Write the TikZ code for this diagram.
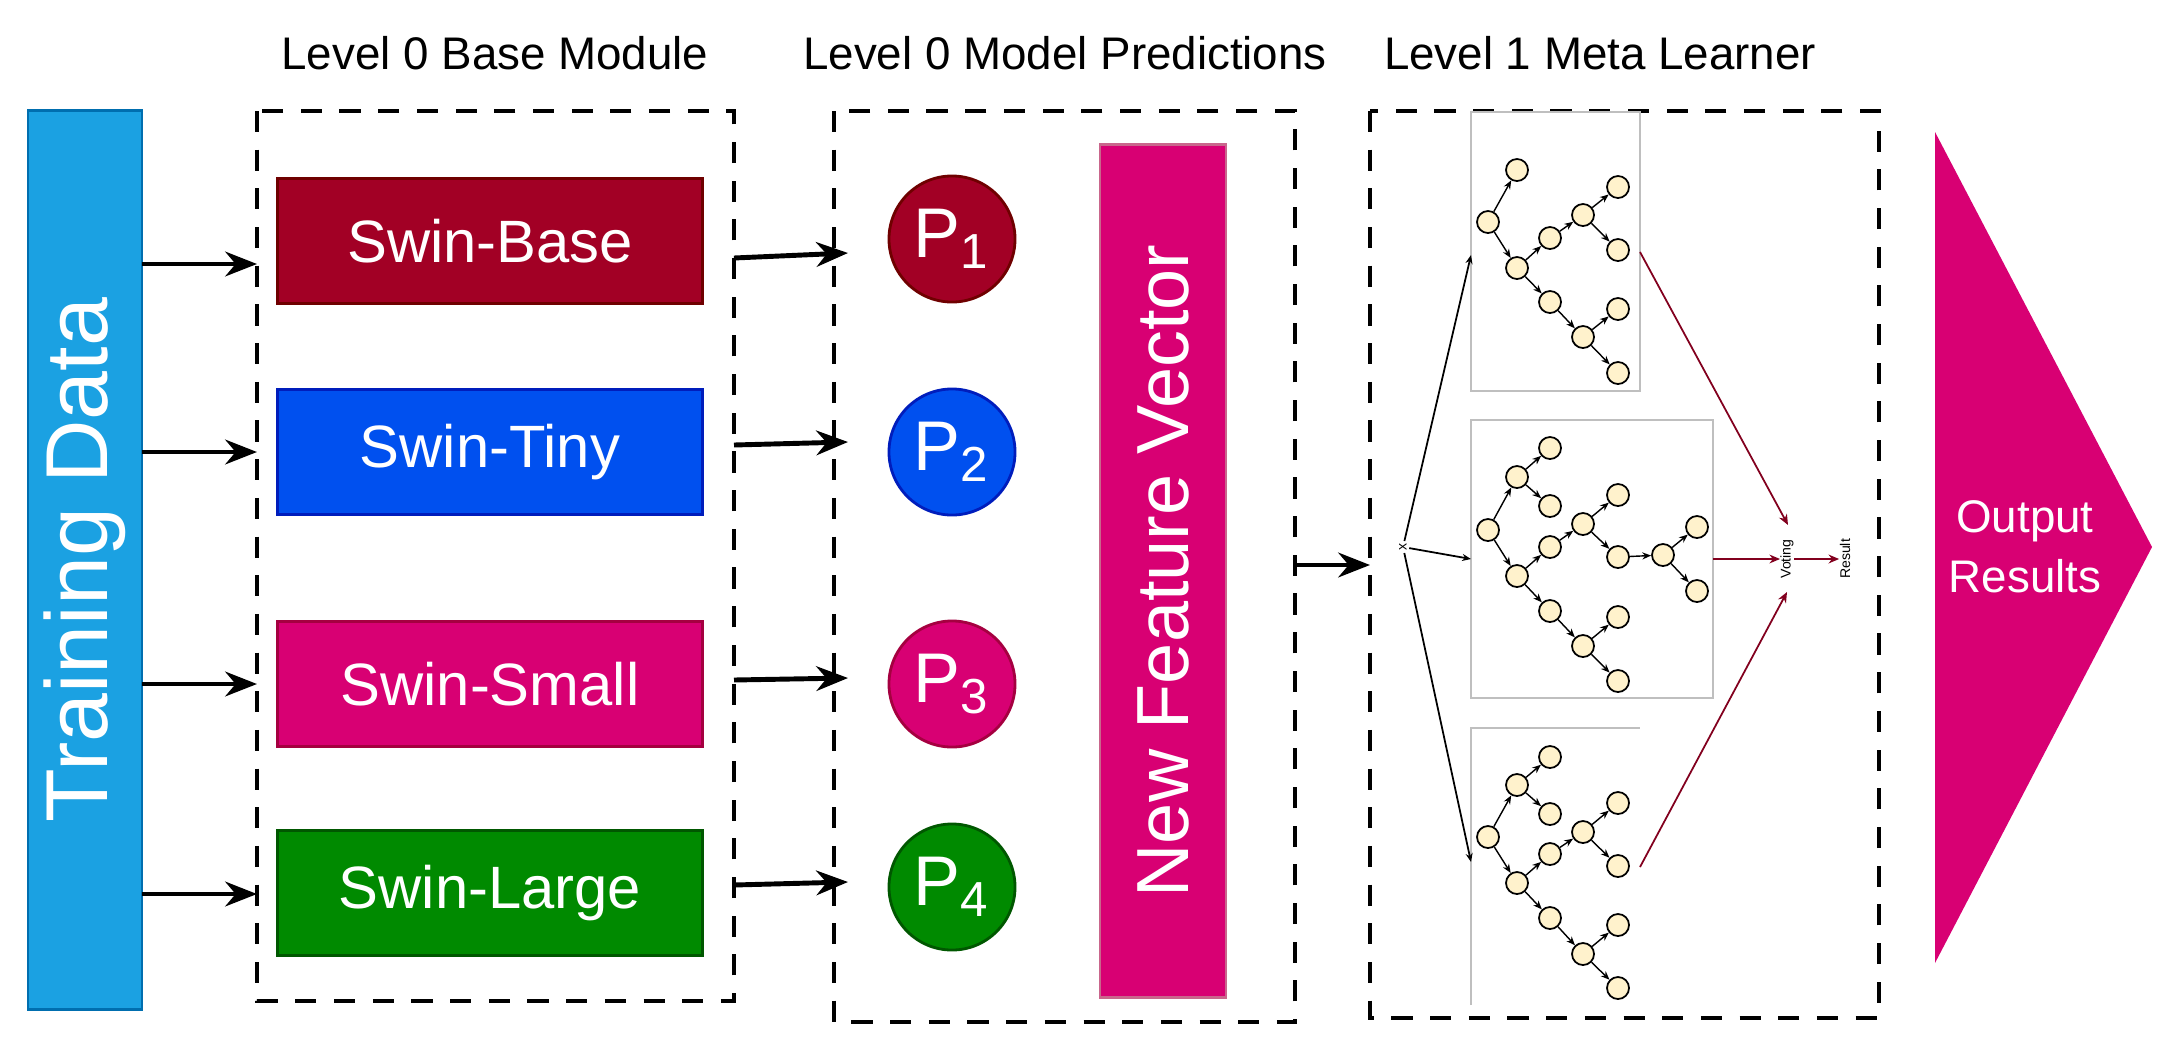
\documentclass[tikz,border=0pt]{standalone}
\usepackage{fontspec}
\setmainfont{Liberation Sans}
\usetikzlibrary{arrows.meta}
\definecolor{cbase}{HTML}{A20025}\definecolor{cbaseD}{HTML}{6F0000}
\definecolor{ctiny}{HTML}{0050EF}\definecolor{ctinyD}{HTML}{001DBC}
\definecolor{csmall}{HTML}{D80073}\definecolor{csmallD}{HTML}{A50040}
\definecolor{clarge}{HTML}{008A00}\definecolor{clargeD}{HTML}{005700}
\definecolor{ctrain}{HTML}{1BA1E2}\definecolor{ctrainD}{HTML}{006EAF}
\definecolor{tn}{HTML}{FFF2CC}
\begin{document}
\begin{tikzpicture}[x=0.01cm,y=-0.01cm,
 dashbox/.style={draw=black,line width=1.3pt,dash pattern=on 6pt off 5pt},
 model/.style={draw=#1!70!black,fill=#1,line width=0.8pt,minimum width=424\pgflinewidth,text=white,font=\fontsize{17}{20}\selectfont},
 arr/.style={-{Stealth[length=9pt,width=7pt]},line width=1.4pt},
 pc/.style={circle,fill=#1,draw=#1!70!black,line width=0.8pt,minimum size=126*0.2845pt,inner sep=0pt,text=white,font=\fontsize{20}{22}\selectfont},
 title/.style={font=\fontsize{13}{15}\selectfont},
 tn/.style={circle,draw=black,fill=tn,line width=0.5pt,minimum size=22*0.2845pt,inner sep=0pt},
 te/.style={-{Stealth[length=2.5pt,width=2pt]},line width=0.4pt},
 gbox/.style={draw=black!25,line width=0.8pt},
 red/.style={draw=cbase!80!black,line width=0.5pt,-{Stealth[length=3pt,width=2.5pt]}}]
\useasboundingbox (0,0) rectangle (2182,1048);
% titles
\node[title] (t1) at (495,53) {Level 0 Base Module};
\node[title] (t2) at (1065,53) {Level 0 Model Predictions};
\node[title] (t3) at (1600,53) {Level 1 Meta Learner};
% training
\node[fill=ctrain,draw=ctrainD,line width=0.8pt,minimum width=114*0.2845pt,minimum height=899*0.2845pt,inner sep=0pt] (train) at (85,560) {};
\node[rotate=90,text=white,font=\fontsize{25}{28}\selectfont] (trt) at (85,560) {Training Data};
% boxes
\draw[dashbox] (257,111) rectangle (734,1001);
\draw[dashbox] (834,111) rectangle (1295,1022);
\draw[dashbox] (1370,111) rectangle (1879,1018);
% models
\tikzset{mrect/.style={minimum width=424*0.2845pt,minimum height=125*0.2845pt,inner sep=0pt}}
\node[model=cbase,mrect,draw=cbaseD] (m1) at (490,241) {Swin-Base};
\node[model=ctiny,mrect,draw=ctinyD] (m2) at (490,452) {Swin-Tiny};
\node[model=csmall,mrect,draw=csmallD] (m3) at (490,684) {Swin-Small};
\node[model=clarge,mrect,draw=clargeD] (m4) at (490,893) {Swin-Large};
\coordinate (s1) at (142,264);\coordinate (s2) at (142,452);\coordinate (s3) at (142,684);\coordinate (s4) at (142,894);
\coordinate (e1) at (257,264);\coordinate (e2) at (257,452);\coordinate (e3) at (257,684);\coordinate (e4) at (257,894);
\foreach \i in {1,...,4}{\draw[arr] (s\i) -- (e\i);}
% predictions
\node[pc=cbase,draw=cbaseD] (p1) at (952,239) {P\textsubscript{1}};
\node[pc=ctiny,draw=ctinyD] (p2) at (952,452) {P\textsubscript{2}};
\node[pc=csmall,draw=csmallD] (p3) at (952,684) {P\textsubscript{3}};
\node[pc=clarge,draw=clargeD] (p4) at (952,887) {P\textsubscript{4}};
\coordinate (q1) at (734,258);\coordinate (q2) at (734,445);\coordinate (q3) at (734,680);\coordinate (q4) at (734,885);
\coordinate (r1) at (848,253);\coordinate (r2) at (848,442);\coordinate (r3) at (848,678);\coordinate (r4) at (848,882);
\foreach \i in {1,...,4}{\draw[arr] (q\i) -- (r\i);}
% NFV
\node[fill=csmall,draw=csmallD!60,line width=0.8pt,minimum width=126*0.2845pt,minimum height=853*0.2845pt,inner sep=0pt] (nfv) at (1163,571) {};
\node[rotate=90,text=white,font=\fontsize{21}{24}\selectfont] (nfvt) at (1163,571) {New Feature Vector};
\coordinate (a0) at (1295,565);\coordinate (a1) at (1370,565);
\draw[arr] (a0) -- (a1);
% output triangle
\fill[csmall] (1935,132) -- (2152,547) -- (1935,963) -- cycle;
\node[text=white,align=center,font=\fontsize{13}{17}\selectfont] (out) at (2025,547) {Output\\Results};
% tree boxes
\draw[gbox] (1471,112) rectangle (1640,391);
\draw[gbox] (1471,420) rectangle (1713,698);
\draw[gbox] (1471,1005) -- (1471,728) -- (1640,728);
% x
\node[rotate=90,font=\fontsize{4}{4}\selectfont,inner sep=0.5pt] (x) at (1403,547) {x};
\coordinate (b1) at (1471,255);\coordinate (b2) at (1471,559);\coordinate (b3) at (1471,862);
\foreach \i in {1,2,3}{\draw[te,line width=0.5pt] (x) -- (b\i);}
% tree1
\foreach \n/\p in {a/{1517,170},r/{1488,222},b/{1517,268},c/{1550,238},d/{1583,215},d1/{1618,187},d2/{1618,250},f/{1550,302},g/{1583,337},g1/{1618,309},g2/{1618,373}}{\node[tn] (u\n) at (\p) {};}
\foreach \s/\t in {r/a,r/b,b/c,c/d,d/d1,d/d2,b/f,f/g,g/g1,g/g2}{\draw[te] (u\s) -- (u\t);}
% tree2
\foreach \n/\p in {r/{1488,530},a/{1517,477},a1/{1550,448},a2/{1550,506},b/{1517,576},c/{1550,547},d/{1583,524},d1/{1618,495},d2/{1618,557},e/{1663,555},e1/{1697,527},e2/{1697,591},f/{1550,611},g/{1583,646},g1/{1618,617},g2/{1618,681}}{\node[tn] (v\n) at (\p) {};}
\foreach \s/\t in {r/a,a/a1,a/a2,r/b,b/c,c/d,d/d1,d/d2,d2/e,e/e1,e/e2,b/f,f/g,g/g1,g/g2}{\draw[te] (v\s) -- (v\t);}
% tree3
\foreach \n/\p in {r/{1488,837},a/{1517,785},a1/{1550,757},a2/{1550,814},b/{1517,883},c/{1550,854},d/{1583,832},d1/{1618,803},d2/{1618,866},f/{1550,918},g/{1583,954},g1/{1618,925},g2/{1618,988}}{\node[tn] (w\n) at (\p) {};}
\foreach \s/\t in {r/a,a/a1,a/a2,r/b,b/c,c/d,d/d1,d/d2,b/f,f/g,g/g1,g/g2}{\draw[te] (w\s) -- (w\t);}
% voting
\node[rotate=90,font=\fontsize{4}{4}\selectfont,inner sep=0pt] (vote) at (1787,559) {Voting};
\node[rotate=90,font=\fontsize{4}{4}\selectfont,inner sep=0pt] (res) at (1845,559) {Result};
\coordinate (o1) at (1640,252);\coordinate (o2) at (1713,559);\coordinate (o3) at (1640,867);
\coordinate (i1) at (1788,525);\coordinate (i2) at (1780,559);\coordinate (i3) at (1787,592);
\foreach \i in {1,2,3}{\draw[red] (o\i) -- (i\i);}
\draw[red] (vote.south) -- (res.north);
\end{tikzpicture}
\end{document}
